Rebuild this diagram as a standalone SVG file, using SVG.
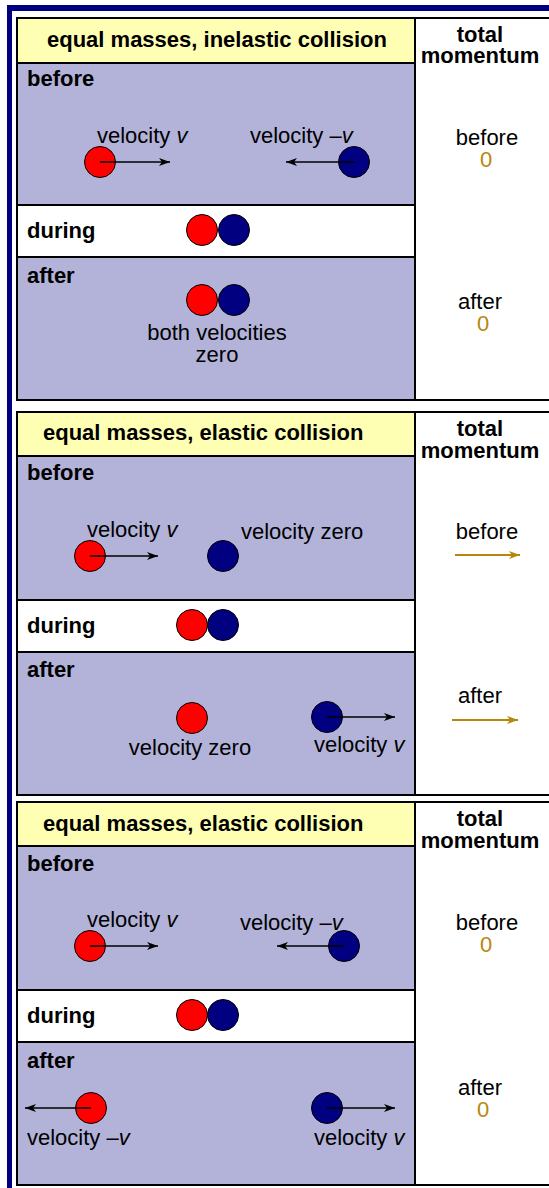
<svg xmlns="http://www.w3.org/2000/svg" width="549" height="1188" viewBox="0 0 549 1188">
<defs>
<style>
text{font-family:"Liberation Sans",Arial,sans-serif;font-size:22px;fill:#000}
.b{font-weight:bold}
.h{font-weight:bold}
.c{text-anchor:middle}
.g{fill:#b8860b}
.hdr{fill:#ffffb3}
.pur{fill:#b3b3d9}
.ln{stroke:#000;stroke-width:2;fill:none}
.red{fill:#ff0000;stroke:#000;stroke-width:1}
.blu{fill:#000080;stroke:#000;stroke-width:1}
.ar{stroke:#000;stroke-width:1.6;fill:none;marker-end:url(#ah)}
.gar{stroke:#b8860b;stroke-width:2;fill:none;marker-end:url(#gh)}
</style>
<marker id="ah" markerUnits="userSpaceOnUse" markerWidth="12" markerHeight="10" refX="11" refY="5" orient="auto"><path d="M0,1 L11,5 L0,9 L3,5 Z" fill="#000"/></marker>
<marker id="gh" markerUnits="userSpaceOnUse" markerWidth="12" markerHeight="10" refX="11" refY="5" orient="auto"><path d="M0,1 L11,5 L0,9 L3,5 Z" fill="#b8860b"/></marker>
</defs>
<rect width="549" height="1188" fill="#fff"/>
<g id="frame">
<rect x="7" y="5" width="542" height="6" fill="#000080"/>
<rect x="7" y="5" width="5" height="1183" fill="#000080"/>
</g>

<!-- Table 1 -->
<g id="table1">
<g id="t1-header">
<rect class="hdr" x="18" y="19" width="397" height="44"/>
<text class="h" x="47" y="47">equal masses, inelastic collision</text>
</g>
<g id="t1-total">
<text class="h c" x="480" y="42">total</text>
<text class="h c" x="480" y="63">momentum</text>
</g>
<g id="t1-before">
<rect class="pur" x="18" y="63" width="397" height="142"/>
<text class="b" x="27" y="86">before</text>
<text x="97" y="143">velocity <tspan font-style="italic">v</tspan></text>
<text x="250" y="143">velocity –<tspan font-style="italic">v</tspan></text>
<circle class="red" cx="100" cy="162" r="15.5"/>
<circle class="blu" cx="354" cy="162" r="15.5"/>
</g>
<g id="t1-during">
<text class="b" x="27" y="238">during</text>
<circle class="red" cx="202" cy="230" r="15.5"/>
<circle class="blu" cx="234" cy="230" r="15.5"/>
</g>
<g id="t1-after">
<rect class="pur" x="18" y="257" width="397" height="143"/>
<text class="b" x="27" y="283">after</text>
<circle class="red" cx="202" cy="300" r="15.5"/>
<circle class="blu" cx="234" cy="300" r="15.5"/>
<text class="c" x="217" y="340">both velocities</text>
<text class="c" x="217" y="362">zero</text>
</g>
<g id="t1-mom">
<text class="c" x="487" y="145">before</text>
<text class="c g" x="486" y="167">0</text>
<text class="c" x="480" y="309">after</text>
<text class="c g" x="483" y="331">0</text>
</g>
<g id="t1-lines">
<path class="ln" d="M17,18 H549 M17,400 H549 M17,17 V401 M415,17 V401 M17,63 H415 M17,205 H415 M17,257 H415"/>
</g>
</g>

<!-- Table 2 -->
<g id="table2">
<g id="t2-header">
<rect class="hdr" x="18" y="413" width="397" height="43"/>
<text class="h" x="43" y="440">equal masses, elastic collision</text>
</g>
<g id="t2-total">
<text class="h c" x="480" y="436">total</text>
<text class="h c" x="480" y="458">momentum</text>
</g>
<g id="t2-before">
<rect class="pur" x="18" y="456" width="397" height="144"/>
<text class="b" x="27" y="480">before</text>
<text x="87" y="537">velocity <tspan font-style="italic">v</tspan></text>
<text x="241" y="539">velocity zero</text>
<circle class="red" cx="90" cy="556" r="15.5"/>
<circle class="blu" cx="223" cy="556" r="15.5"/>
</g>
<g id="t2-during">
<text class="b" x="27" y="633">during</text>
<circle class="red" cx="192" cy="625" r="15.5"/>
<circle class="blu" cx="223" cy="625" r="15.5"/>
</g>
<g id="t2-after">
<rect class="pur" x="18" y="652" width="397" height="143"/>
<text class="b" x="27" y="677">after</text>
<circle class="red" cx="192" cy="718" r="15.5"/>
<text class="c" x="190" y="755">velocity zero</text>
<circle class="blu" cx="327" cy="717" r="15.5"/>
<text x="314" y="752">velocity <tspan font-style="italic">v</tspan></text>
</g>
<g id="t2-mom">
<text class="c" x="487" y="539">before</text>
<text class="c" x="480" y="703">after</text>
</g>
<g id="t2-lines">
<path class="ln" d="M17,412 H549 M17,795 H549 M17,411 V796 M415,411 V796 M17,456 H415 M17,600 H415 M17,652 H415"/>
</g>
</g>

<!-- Table 3 -->
<g id="table3">
<g id="t3-header">
<rect class="hdr" x="18" y="803" width="397" height="43"/>
<text class="h" x="43" y="831">equal masses, elastic collision</text>
</g>
<g id="t3-total">
<text class="h c" x="480" y="826">total</text>
<text class="h c" x="480" y="848">momentum</text>
</g>
<g id="t3-before">
<rect class="pur" x="18" y="846" width="397" height="144"/>
<text class="b" x="27" y="871">before</text>
<text x="87" y="927">velocity <tspan font-style="italic">v</tspan></text>
<text x="240" y="930">velocity –<tspan font-style="italic">v</tspan></text>
<circle class="red" cx="90" cy="946" r="15.5"/>
<circle class="blu" cx="344" cy="946" r="15.5"/>
</g>
<g id="t3-during">
<text class="b" x="27" y="1023">during</text>
<circle class="red" cx="192" cy="1015" r="15.5"/>
<circle class="blu" cx="223" cy="1015" r="15.5"/>
</g>
<g id="t3-after">
<rect class="pur" x="18" y="1042" width="397" height="143"/>
<text class="b" x="27" y="1068">after</text>
<circle class="red" cx="91" cy="1108" r="15.5"/>
<text x="27" y="1145">velocity –<tspan font-style="italic">v</tspan></text>
<circle class="blu" cx="327" cy="1108" r="15.5"/>
<text x="314" y="1145">velocity <tspan font-style="italic">v</tspan></text>
</g>
<g id="t3-mom">
<text class="c" x="487" y="930">before</text>
<text class="c g" x="486" y="952">0</text>
<text class="c" x="480" y="1095">after</text>
<text class="c g" x="483" y="1117">0</text>
</g>
<g id="t3-lines">
<path class="ln" d="M17,802 H549 M17,1185 H549 M17,801 V1186 M415,801 V1186 M17,846 H415 M17,990 H415 M17,1042 H415"/>
</g>
</g>

<g id="connectors">
<line class="ar" x1="100" y1="162" x2="170" y2="162"/>
<line class="ar" x1="354" y1="162" x2="286" y2="162"/>
<line class="ar" x1="90" y1="556" x2="158" y2="556"/>
<line class="ar" x1="327" y1="717" x2="395" y2="717"/>
<line class="gar" x1="455" y1="555" x2="520" y2="555"/>
<line class="gar" x1="452" y1="720" x2="518" y2="720"/>
<line class="ar" x1="90" y1="946" x2="158" y2="946"/>
<line class="ar" x1="344" y1="946" x2="277" y2="946"/>
<line class="ar" x1="91" y1="1108" x2="25" y2="1108"/>
<line class="ar" x1="327" y1="1108" x2="395" y2="1108"/>
</g>
</svg>
